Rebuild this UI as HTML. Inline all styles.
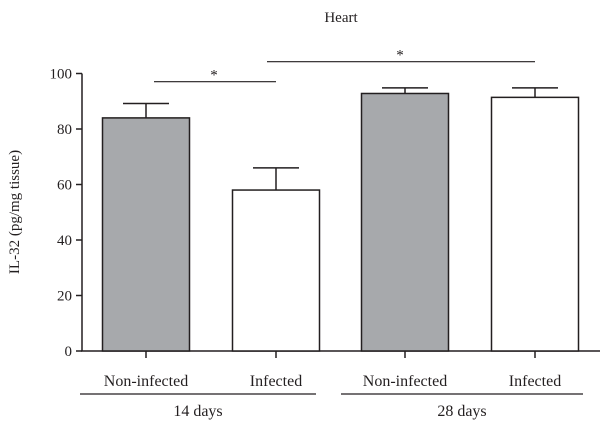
<!DOCTYPE html>
<html><head><meta charset="utf-8"><style>
body{margin:0;background:#fff}
svg text{font-family:"Liberation Serif",serif;fill:#231f20}
</style></head><body>
<svg width="600" height="427" viewBox="0 0 600 427">
<text x="341" y="22" font-size="15" text-anchor="middle">Heart</text>
<text transform="translate(19,212) rotate(-90)" font-size="15" text-anchor="middle">IL-32 (pg/mg tissue)</text>
<g id="plot"></g>
</svg>
<script>
const categories=["Non-infected","Infected","Non-infected","Infected"];
const values=[84,58,92.8,91.4];
const errors=[5.2,8,2,3.4];
const fills=["#a7a9ac","#fff","#a7a9ac","#fff"];
const yTicks=[0,20,40,60,80,100];
const groups=["14 days","28 days"];
const centers=[146,276,405,535];
const y=v=>351-v*2.775;
const ns="http://www.w3.org/2000/svg";
const g=document.getElementById('plot');
function mk(t,a,txt){const e=document.createElementNS(ns,t);for(const k in a)e.setAttribute(k,a[k]);if(txt!==undefined)e.textContent=txt;g.appendChild(e);return e;}
let e;
e=mk('line',{x1:82,y1:y(100),x2:82,y2:351.5,stroke:'#231f20','stroke-width':1.5});


e=mk('line',{x1:81,y1:351,x2:600,y2:351,stroke:'#231f20','stroke-width':1.5});


yTicks.forEach(t=>{
 e=mk('line',{x1:76,y1:y(t),x2:82,y2:y(t),stroke:'#231f20','stroke-width':1.5});
 
 
 e=mk('text',{x:72,y:y(t)+5,'font-size':15,'text-anchor':'end'},t);
 
 
});
values.forEach((v,i)=>{
 const c=centers[i];
 e=mk('line',{x1:c,y1:y(v),x2:c,y2:y(v+errors[i]),stroke:'#231f20','stroke-width':1.5});
 
 
 e=mk('line',{x1:c-23,y1:y(v+errors[i]),x2:c+23,y2:y(v+errors[i]),stroke:'#231f20','stroke-width':1.5});
 
 
 e=mk('rect',{x:c-43.5,y:y(v),width:87,height:351-y(v),fill:fills[i],stroke:'#231f20','stroke-width':1.5});
 
 
 e=mk('line',{x1:c,y1:351,x2:c,y2:358,stroke:'#231f20','stroke-width':1.5});
 
 
 e=mk('text',{x:c,y:386,'font-size':16,'text-anchor':'middle'},categories[i]);
 
 
});
[[80,316],[341,583]].forEach((r,i)=>{
 e=mk('line',{x1:r[0],y1:394,x2:r[1],y2:394,stroke:'#231f20','stroke-width':1.2});
 
 
 e=mk('text',{x:(r[0]+r[1])/2,y:416,'font-size':16,'text-anchor':'middle'},groups[i]);
 
 
});
[[154,276,81.7,214],[267,535,61.7,400]].forEach(s=>{
 e=mk('line',{x1:s[0],y1:s[2],x2:s[1],y2:s[2],stroke:'#231f20','stroke-width':1.2});
 
 
 e=mk('text',{x:s[3],y:s[2]-2,'font-size':15,'text-anchor':'middle'},'*');
 
 
});
</script>
</body></html>
